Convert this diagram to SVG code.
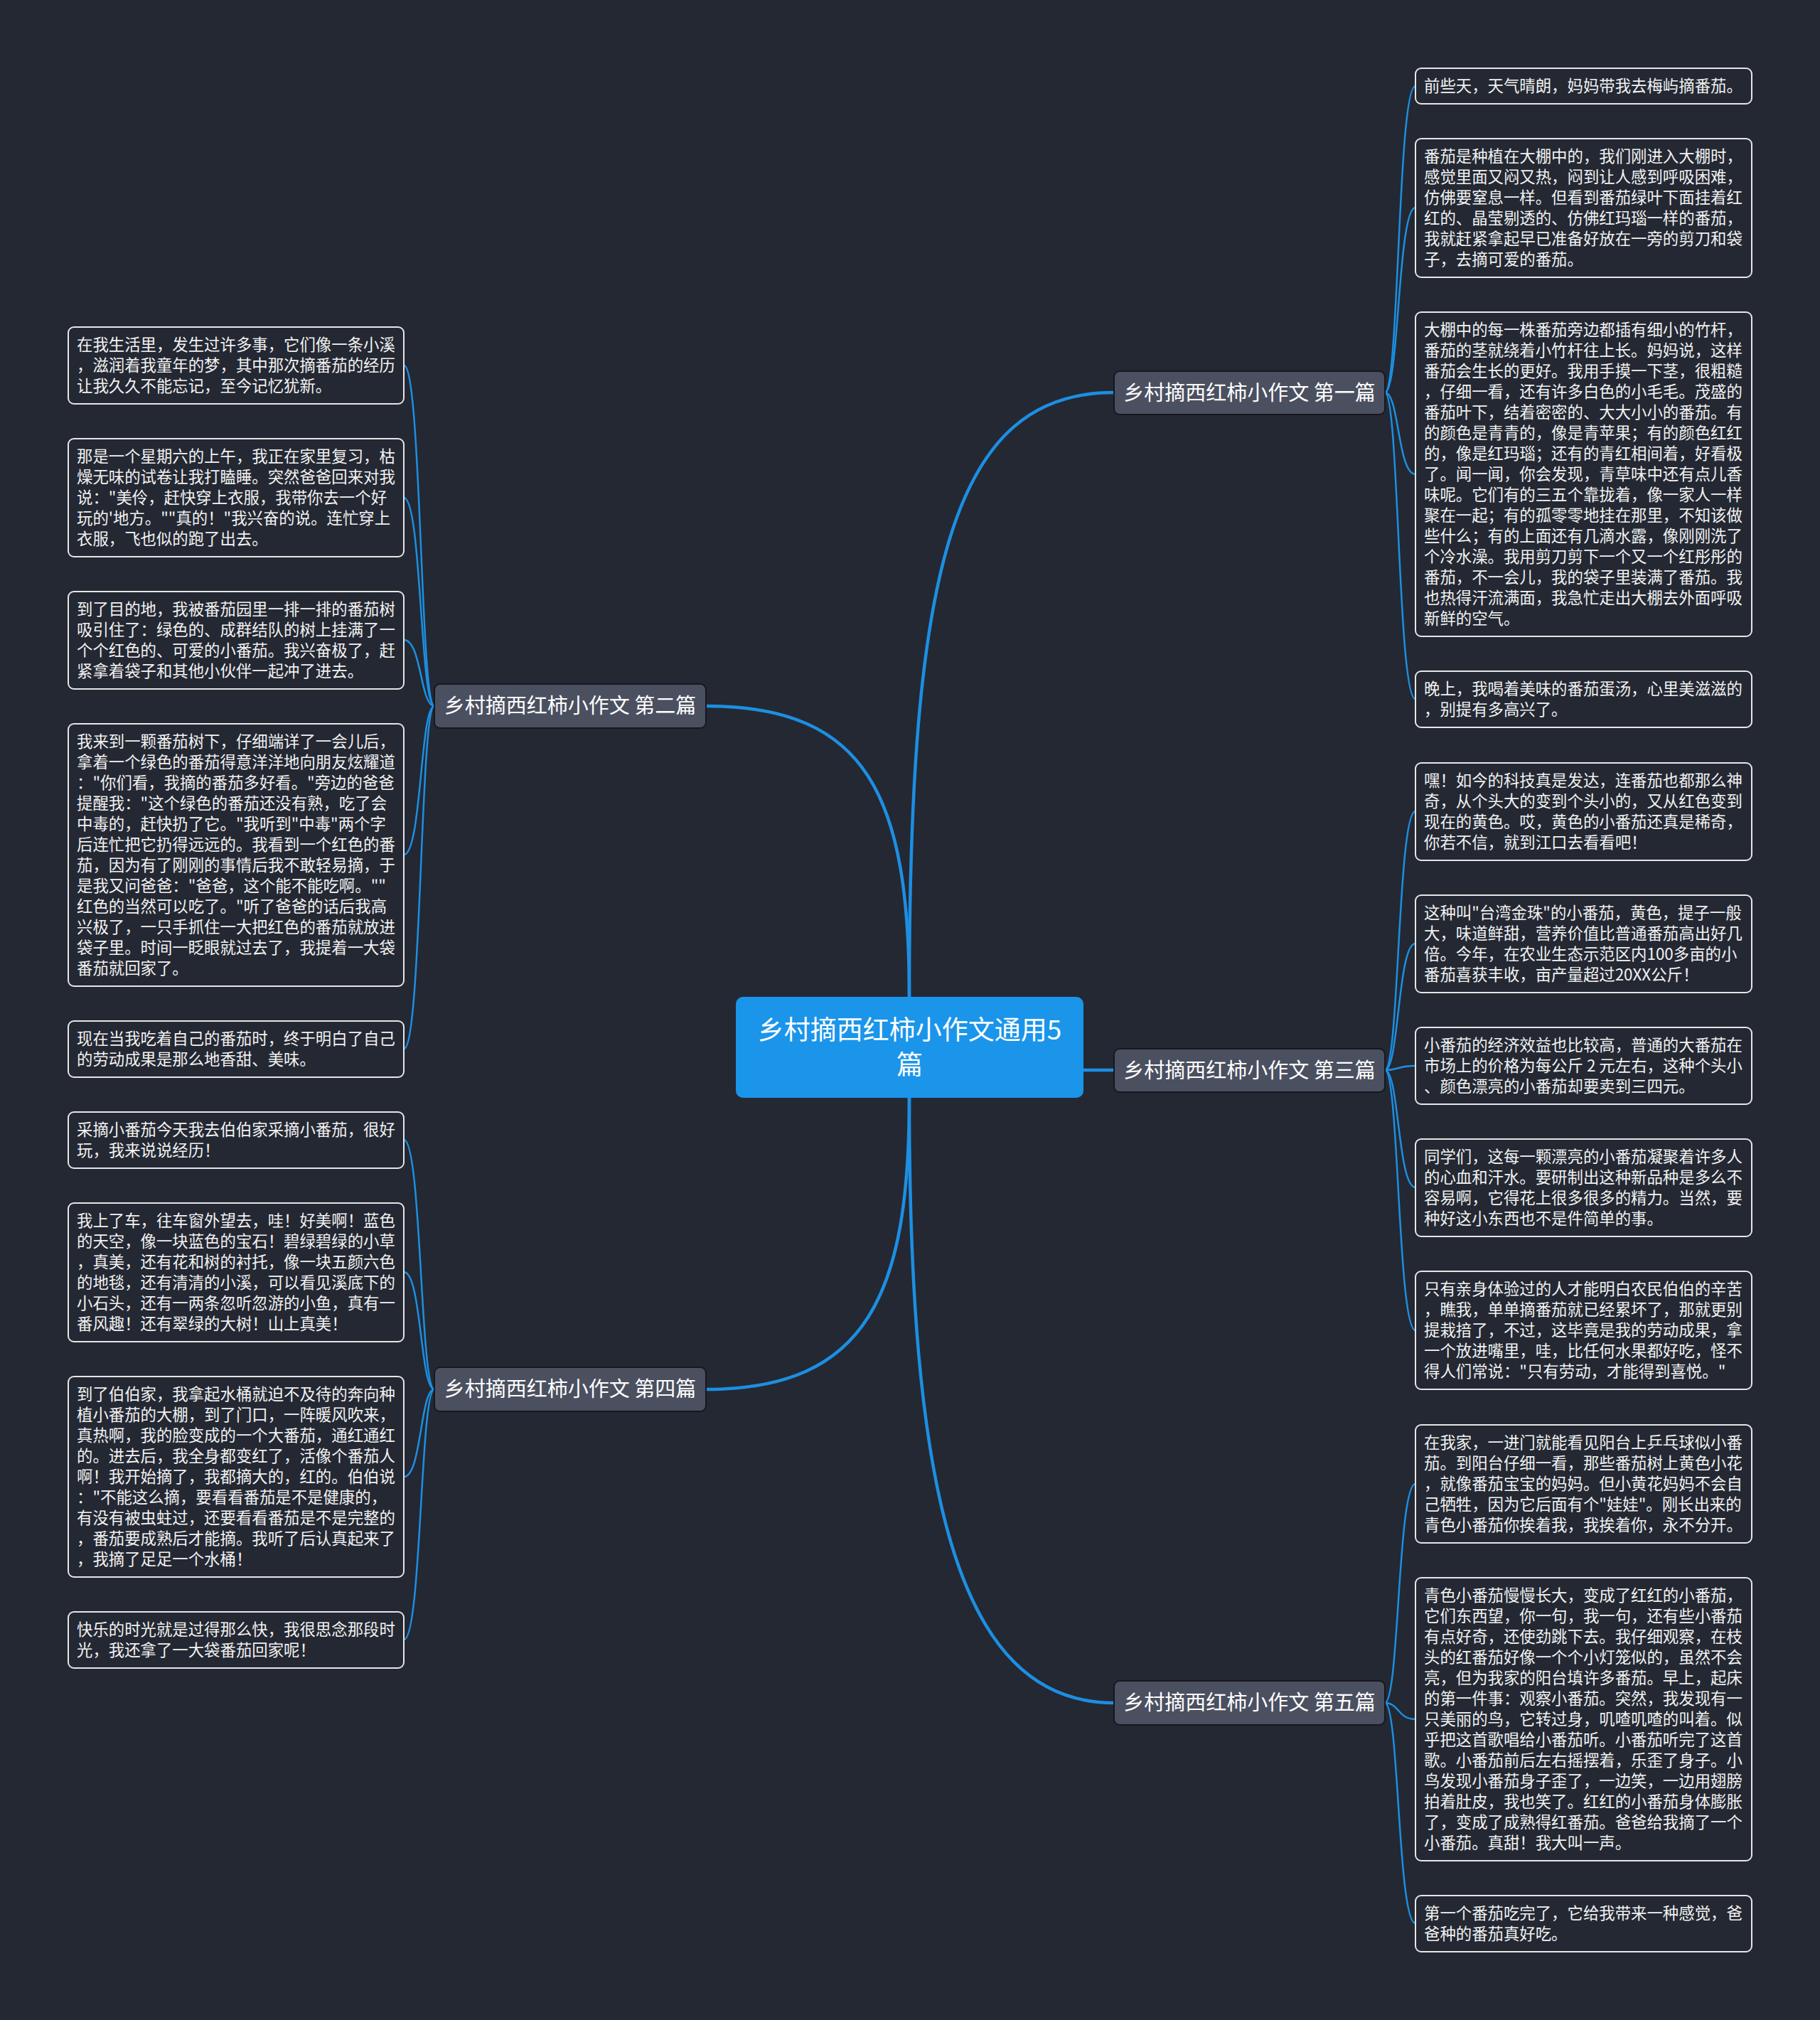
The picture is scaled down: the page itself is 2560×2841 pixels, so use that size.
<svg xmlns="http://www.w3.org/2000/svg" width="2560" height="2841" viewBox="0 0 2560 2841">
<style>
.bg{fill:#242833}
.leaf rect{fill:#242833;stroke:#e6e6e6;stroke-width:2}
.leaf text{font-family:"Noto Sans CJK SC","Noto Sans",sans-serif;font-size:22.4px;fill:#f2f2f2}
.branch rect{fill:#4b5060;stroke:#16181e;stroke-width:2}
.branch text{font-family:"Noto Sans CJK SC","Noto Sans",sans-serif;font-size:29px;fill:#ffffff;text-anchor:middle}
.root rect{fill:#1a95ea}
.root text{font-family:"Noto Sans CJK SC","Noto Sans",sans-serif;font-size:37px;fill:#ffffff;text-anchor:middle}
.main{fill:none;stroke:#1c8fe2;stroke-width:4.5}
.sub{fill:none;stroke:#1c8fe2;stroke-width:2.5}
</style>
<rect class="bg" x="0" y="0" width="2560" height="2841"/>

<g id="connectors">
<path class="main" d="M1279 1402 C1279 800,1340 552,1567 552"/>
<path class="main" d="M1279 1402 C1279 1120,1220 993,993 993"/>
<path class="main" d="M1524 1505 L1567 1505"/>
<path class="main" d="M1279 1544 C1279 1820,1220 1954,993 1954"/>
<path class="main" d="M1279 1544 C1279 2080,1340 2395,1567 2395"/>
<path class="sub" d="M1948 552 C1968 552,1966 121,1991 121"/>
<path class="sub" d="M1948 552 C1968 552,1966 292,1991 292"/>
<path class="sub" d="M1948 552 C1968 552,1966 667,1991 667"/>
<path class="sub" d="M1948 552 C1968 552,1966 983,1991 983"/>
<path class="sub" d="M1948 1505 C1968 1505,1966 1141,1991 1141"/>
<path class="sub" d="M1948 1505 C1968 1505,1966 1327,1991 1327"/>
<path class="sub" d="M1948 1505 C1968 1505,1966 1499,1991 1499"/>
<path class="sub" d="M1948 1505 C1968 1505,1966 1670,1991 1670"/>
<path class="sub" d="M1948 1505 C1968 1505,1966 1871,1991 1871"/>
<path class="sub" d="M1948 2395 C1968 2395,1966 2087,1991 2087"/>
<path class="sub" d="M1948 2395 C1968 2395,1966 2418,1991 2418"/>
<path class="sub" d="M1948 2395 C1968 2395,1966 2705,1991 2705"/>
<path class="sub" d="M611 993 C591 993,593 514,568 514"/>
<path class="sub" d="M611 993 C591 993,593 700,568 700"/>
<path class="sub" d="M611 993 C591 993,593 900,568 900"/>
<path class="sub" d="M611 993 C591 993,593 1202,568 1202"/>
<path class="sub" d="M611 993 C591 993,593 1475,568 1475"/>
<path class="sub" d="M611 1954 C591 1954,593 1603,568 1603"/>
<path class="sub" d="M611 1954 C591 1954,593 1789,568 1789"/>
<path class="sub" d="M611 1954 C591 1954,593 2077,568 2077"/>
<path class="sub" d="M611 1954 C591 1954,593 2306,568 2306"/>
</g>

<g id="root" class="root">
<rect x="1035" y="1402" width="489" height="142" rx="10"/>
<text x="1279.5" y="1462"><tspan x="1279.5">乡村摘西红柿小作文通用5</tspan><tspan x="1279.5" dy="49">篇</tspan></text>
</g>

<g id="b1" class="branch">
<rect x="1567" y="522" width="381" height="61" rx="8"/>
<text x="1757.5" y="563">乡村摘西红柿小作文 第一篇</text>
</g>
<g id="b2" class="branch">
<rect x="611" y="962" width="382" height="62" rx="8"/>
<text x="802" y="1003">乡村摘西红柿小作文 第二篇</text>
</g>
<g id="b3" class="branch">
<rect x="1567" y="1475" width="381" height="61" rx="8"/>
<text x="1757.5" y="1516">乡村摘西红柿小作文 第三篇</text>
</g>
<g id="b4" class="branch">
<rect x="611" y="1923" width="382" height="62" rx="8"/>
<text x="802" y="1964">乡村摘西红柿小作文 第四篇</text>
</g>
<g id="b5" class="branch">
<rect x="1567" y="2364" width="381" height="62" rx="8"/>
<text x="1757.5" y="2405">乡村摘西红柿小作文 第五篇</text>
</g>

<g id="r1a" class="leaf">
<rect x="1991" y="96" width="473" height="50" rx="8"/>
<text x="2003" y="129">前些天，天气晴朗，妈妈带我去梅屿摘番茄。</text>
</g>
<g id="r1b" class="leaf">
<rect x="1991" y="195" width="473" height="195" rx="8"/>
<text x="2003" y="228"><tspan x="2003">番茄是种植在大棚中的，我们刚进入大棚时，</tspan><tspan x="2003" dy="29">感觉里面又闷又热，闷到让人感到呼吸困难，</tspan><tspan x="2003" dy="29">仿佛要窒息一样。但看到番茄绿叶下面挂着红</tspan><tspan x="2003" dy="29">红的、晶莹剔透的、仿佛红玛瑙一样的番茄，</tspan><tspan x="2003" dy="29">我就赶紧拿起早已准备好放在一旁的剪刀和袋</tspan><tspan x="2003" dy="29">子，去摘可爱的番茄。</tspan></text>
</g>
<g id="r1c" class="leaf">
<rect x="1991" y="439" width="473" height="456" rx="8"/>
<text x="2003" y="472"><tspan x="2003">大棚中的每一株番茄旁边都插有细小的竹杆，</tspan><tspan x="2003" dy="29">番茄的茎就绕着小竹杆往上长。妈妈说，这样</tspan><tspan x="2003" dy="29">番茄会生长的更好。我用手摸一下茎，很粗糙</tspan><tspan x="2003" dy="29">，仔细一看，还有许多白色的小毛毛。茂盛的</tspan><tspan x="2003" dy="29">番茄叶下，结着密密的、大大小小的番茄。有</tspan><tspan x="2003" dy="29">的颜色是青青的，像是青苹果；有的颜色红红</tspan><tspan x="2003" dy="29">的，像是红玛瑙；还有的青红相间着，好看极</tspan><tspan x="2003" dy="29">了。闻一闻，你会发现，青草味中还有点儿香</tspan><tspan x="2003" dy="29">味呢。它们有的三五个靠拢着，像一家人一样</tspan><tspan x="2003" dy="29">聚在一起；有的孤零零地挂在那里，不知该做</tspan><tspan x="2003" dy="29">些什么；有的上面还有几滴水露，像刚刚洗了</tspan><tspan x="2003" dy="29">个冷水澡。我用剪刀剪下一个又一个红彤彤的</tspan><tspan x="2003" dy="29">番茄，不一会儿，我的袋子里装满了番茄。我</tspan><tspan x="2003" dy="29">也热得汗流满面，我急忙走出大棚去外面呼吸</tspan><tspan x="2003" dy="29">新鲜的空气。</tspan></text>
</g>
<g id="r1d" class="leaf">
<rect x="1991" y="944" width="473" height="79" rx="8"/>
<text x="2003" y="977"><tspan x="2003">晚上，我喝着美味的番茄蛋汤，心里美滋滋的</tspan><tspan x="2003" dy="29">，别提有多高兴了。</tspan></text>
</g>

<g id="r3a" class="leaf">
<rect x="1991" y="1073" width="473" height="137" rx="8"/>
<text x="2003" y="1106"><tspan x="2003">嘿！如今的科技真是发达，连番茄也都那么神</tspan><tspan x="2003" dy="29">奇，从个头大的变到个头小的，又从红色变到</tspan><tspan x="2003" dy="29">现在的黄色。哎，黄色的小番茄还真是稀奇，</tspan><tspan x="2003" dy="29">你若不信，就到江口去看看吧！</tspan></text>
</g>
<g id="r3b" class="leaf">
<rect x="1991" y="1259" width="473" height="137" rx="8"/>
<text x="2003" y="1292"><tspan x="2003">这种叫"台湾金珠"的小番茄，黄色，提子一般</tspan><tspan x="2003" dy="29">大，味道鲜甜，营养价值比普通番茄高出好几</tspan><tspan x="2003" dy="29">倍。今年，在农业生态示范区内100多亩的小</tspan><tspan x="2003" dy="29">番茄喜获丰收，亩产量超过20XX公斤！</tspan></text>
</g>
<g id="r3c" class="leaf">
<rect x="1991" y="1445" width="473" height="108" rx="8"/>
<text x="2003" y="1478"><tspan x="2003">小番茄的经济效益也比较高，普通的大番茄在</tspan><tspan x="2003" dy="29">市场上的价格为每公斤 2 元左右，这种个头小</tspan><tspan x="2003" dy="29">、颜色漂亮的小番茄却要卖到三四元。</tspan></text>
</g>
<g id="r3d" class="leaf">
<rect x="1991" y="1602" width="473" height="137" rx="8"/>
<text x="2003" y="1635"><tspan x="2003">同学们，这每一颗漂亮的小番茄凝聚着许多人</tspan><tspan x="2003" dy="29">的心血和汗水。要研制出这种新品种是多么不</tspan><tspan x="2003" dy="29">容易啊，它得花上很多很多的精力。当然，要</tspan><tspan x="2003" dy="29">种好这小东西也不是件简单的事。</tspan></text>
</g>
<g id="r3e" class="leaf">
<rect x="1991" y="1788" width="473" height="166" rx="8"/>
<text x="2003" y="1821"><tspan x="2003">只有亲身体验过的人才能明白农民伯伯的辛苦</tspan><tspan x="2003" dy="29">，瞧我，单单摘番茄就已经累坏了，那就更别</tspan><tspan x="2003" dy="29">提栽揞了，不过，这毕竟是我的劳动成果，拿</tspan><tspan x="2003" dy="29">一个放进嘴里，哇，比任何水果都好吃，怪不</tspan><tspan x="2003" dy="29">得人们常说："只有劳动，才能得到喜悦。"</tspan></text>
</g>

<g id="r5a" class="leaf">
<rect x="1991" y="2004" width="473" height="166" rx="8"/>
<text x="2003" y="2037"><tspan x="2003">在我家，一进门就能看见阳台上乒乓球似小番</tspan><tspan x="2003" dy="29">茄。到阳台仔细一看，那些番茄树上黄色小花</tspan><tspan x="2003" dy="29">，就像番茄宝宝的妈妈。但小黄花妈妈不会自</tspan><tspan x="2003" dy="29">己牺牲，因为它后面有个"娃娃"。刚长出来的</tspan><tspan x="2003" dy="29">青色小番茄你挨着我，我挨着你，永不分开。</tspan></text>
</g>
<g id="r5b" class="leaf">
<rect x="1991" y="2219" width="473" height="398" rx="8"/>
<text x="2003" y="2252"><tspan x="2003">青色小番茄慢慢长大，变成了红红的小番茄，</tspan><tspan x="2003" dy="29">它们东西望，你一句，我一句，还有些小番茄</tspan><tspan x="2003" dy="29">有点好奇，还使劲跳下去。我仔细观察，在枝</tspan><tspan x="2003" dy="29">头的红番茄好像一个个小灯笼似的，虽然不会</tspan><tspan x="2003" dy="29">亮，但为我家的阳台填许多番茄。早上，起床</tspan><tspan x="2003" dy="29">的第一件事：观察小番茄。突然，我发现有一</tspan><tspan x="2003" dy="29">只美丽的鸟，它转过身，叽喳叽喳的叫着。似</tspan><tspan x="2003" dy="29">乎把这首歌唱给小番茄听。小番茄听完了这首</tspan><tspan x="2003" dy="29">歌。小番茄前后左右摇摆着，乐歪了身子。小</tspan><tspan x="2003" dy="29">鸟发现小番茄身子歪了，一边笑，一边用翅膀</tspan><tspan x="2003" dy="29">拍着肚皮，我也笑了。红红的小番茄身体膨胀</tspan><tspan x="2003" dy="29">了，变成了成熟得红番茄。爸爸给我摘了一个</tspan><tspan x="2003" dy="29">小番茄。真甜！我大叫一声。</tspan></text>
</g>
<g id="r5c" class="leaf">
<rect x="1991" y="2666" width="473" height="79" rx="8"/>
<text x="2003" y="2699"><tspan x="2003">第一个番茄吃完了，它给我带来一种感觉，爸</tspan><tspan x="2003" dy="29">爸种的番茄真好吃。</tspan></text>
</g>

<g id="l2a" class="leaf">
<rect x="96" y="460" width="472" height="108" rx="8"/>
<text x="108" y="493"><tspan x="108">在我生活里，发生过许多事，它们像一条小溪</tspan><tspan x="108" dy="29">，滋润着我童年的梦，其中那次摘番茄的经历</tspan><tspan x="108" dy="29">让我久久不能忘记，至今记忆犹新。</tspan></text>
</g>
<g id="l2b" class="leaf">
<rect x="96" y="617" width="472" height="166" rx="8"/>
<text x="108" y="650"><tspan x="108">那是一个星期六的上午，我正在家里复习，枯</tspan><tspan x="108" dy="29">燥无味的试卷让我打瞌睡。突然爸爸回来对我</tspan><tspan x="108" dy="29">说："美伶，赶快穿上衣服，我带你去一个好</tspan><tspan x="108" dy="29">玩的'地方。""真的！"我兴奋的说。连忙穿上</tspan><tspan x="108" dy="29">衣服，飞也似的跑了出去。</tspan></text>
</g>
<g id="l2c" class="leaf">
<rect x="96" y="832" width="472" height="137" rx="8"/>
<text x="108" y="865"><tspan x="108">到了目的地，我被番茄园里一排一排的番茄树</tspan><tspan x="108" dy="29">吸引住了：绿色的、成群结队的树上挂满了一</tspan><tspan x="108" dy="29">个个红色的、可爱的小番茄。我兴奋极了，赶</tspan><tspan x="108" dy="29">紧拿着袋子和其他小伙伴一起冲了进去。</tspan></text>
</g>
<g id="l2d" class="leaf">
<rect x="96" y="1018" width="472" height="369" rx="8"/>
<text x="108" y="1051"><tspan x="108">我来到一颗番茄树下，仔细端详了一会儿后，</tspan><tspan x="108" dy="29">拿着一个绿色的番茄得意洋洋地向朋友炫耀道</tspan><tspan x="108" dy="29">："你们看，我摘的番茄多好看。"旁边的爸爸</tspan><tspan x="108" dy="29">提醒我："这个绿色的番茄还没有熟，吃了会</tspan><tspan x="108" dy="29">中毒的，赶快扔了它。"我听到"中毒"两个字</tspan><tspan x="108" dy="29">后连忙把它扔得远远的。我看到一个红色的番</tspan><tspan x="108" dy="29">茄，因为有了刚刚的事情后我不敢轻易摘，于</tspan><tspan x="108" dy="29">是我又问爸爸："爸爸，这个能不能吃啊。""</tspan><tspan x="108" dy="29">红色的当然可以吃了。"听了爸爸的话后我高</tspan><tspan x="108" dy="29">兴极了，一只手抓住一大把红色的番茄就放进</tspan><tspan x="108" dy="29">袋子里。时间一眨眼就过去了，我提着一大袋</tspan><tspan x="108" dy="29">番茄就回家了。</tspan></text>
</g>
<g id="l2e" class="leaf">
<rect x="96" y="1436" width="472" height="79" rx="8"/>
<text x="108" y="1469"><tspan x="108">现在当我吃着自己的番茄时，终于明白了自己</tspan><tspan x="108" dy="29">的劳动成果是那么地香甜、美味。</tspan></text>
</g>

<g id="l4a" class="leaf">
<rect x="96" y="1564" width="472" height="79" rx="8"/>
<text x="108" y="1597"><tspan x="108">采摘小番茄今天我去伯伯家采摘小番茄，很好</tspan><tspan x="108" dy="29">玩，我来说说经历！</tspan></text>
</g>
<g id="l4b" class="leaf">
<rect x="96" y="1692" width="472" height="195" rx="8"/>
<text x="108" y="1725"><tspan x="108">我上了车，往车窗外望去，哇！好美啊！蓝色</tspan><tspan x="108" dy="29">的天空，像一块蓝色的宝石！碧绿碧绿的小草</tspan><tspan x="108" dy="29">，真美，还有花和树的衬托，像一块五颜六色</tspan><tspan x="108" dy="29">的地毯，还有清清的小溪，可以看见溪底下的</tspan><tspan x="108" dy="29">小石头，还有一两条忽听忽游的小鱼，真有一</tspan><tspan x="108" dy="29">番风趣！还有翠绿的大树！山上真美！</tspan></text>
</g>
<g id="l4c" class="leaf">
<rect x="96" y="1936" width="472" height="282" rx="8"/>
<text x="108" y="1969"><tspan x="108">到了伯伯家，我拿起水桶就迫不及待的奔向种</tspan><tspan x="108" dy="29">植小番茄的大棚，到了门口，一阵暖风吹来，</tspan><tspan x="108" dy="29">真热啊，我的脸变成的一个大番茄，通红通红</tspan><tspan x="108" dy="29">的。进去后，我全身都变红了，活像个番茄人</tspan><tspan x="108" dy="29">啊！我开始摘了，我都摘大的，红的。伯伯说</tspan><tspan x="108" dy="29">："不能这么摘，要看看番茄是不是健康的，</tspan><tspan x="108" dy="29">有没有被虫蛀过，还要看看番茄是不是完整的</tspan><tspan x="108" dy="29">，番茄要成熟后才能摘。我听了后认真起来了</tspan><tspan x="108" dy="29">，我摘了足足一个水桶！</tspan></text>
</g>
<g id="l4d" class="leaf">
<rect x="96" y="2267" width="472" height="79" rx="8"/>
<text x="108" y="2300"><tspan x="108">快乐的时光就是过得那么快，我很思念那段时</tspan><tspan x="108" dy="29">光，我还拿了一大袋番茄回家呢！</tspan></text>
</g>
</svg>
